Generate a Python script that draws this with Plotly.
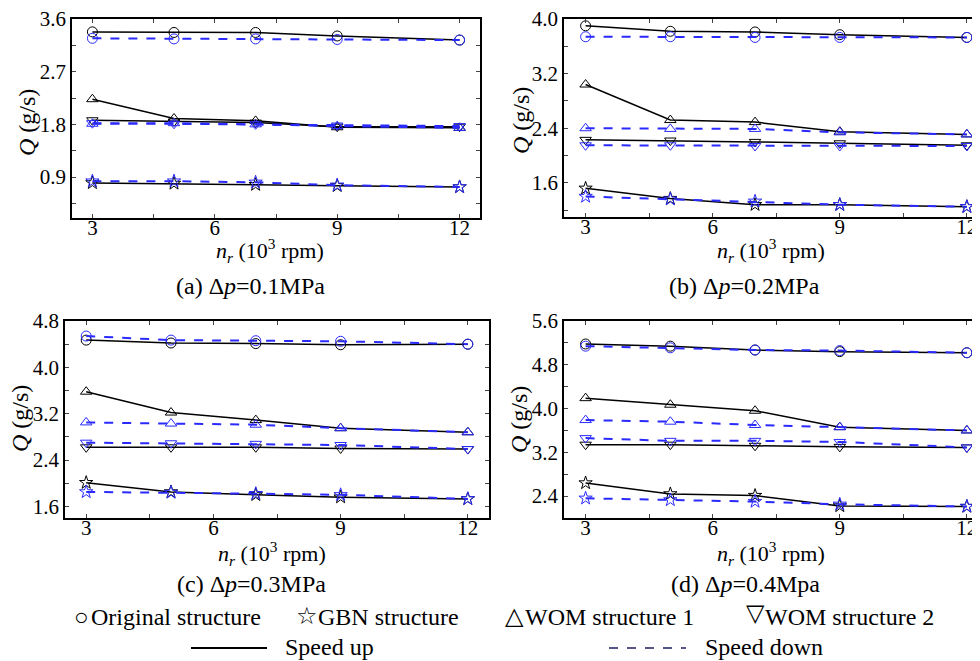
import plotly.graph_objects as go
from plotly.subplots import make_subplots

speed = [3, 5, 7, 9, 12]

# (a) dp = 0.1 MPa
a_orig_up = [3.38, 3.37, 3.37, 3.31, 3.24]
a_orig_down = [3.27, 3.26, 3.26, 3.25, 3.24]
a_gbn_up = [0.80, 0.79, 0.77, 0.75, 0.73]
a_gbn_down = [0.83, 0.83, 0.81, 0.76, 0.73]
a_wom1_up = [2.23, 1.90, 1.86, 1.75, 1.74]
a_wom1_down = [1.81, 1.82, 1.80, 1.77, 1.74]
a_wom2_up = [1.87, 1.85, 1.83, 1.76, 1.76]
a_wom2_down = [1.82, 1.81, 1.80, 1.78, 1.77]

# (b) dp = 0.2 MPa
b_orig_up = [3.90, 3.82, 3.81, 3.77, 3.73]
b_orig_down = [3.74, 3.74, 3.73, 3.73, 3.73]
b_gbn_up = [1.52, 1.37, 1.28, 1.28, 1.25]
b_gbn_down = [1.40, 1.36, 1.33, 1.28, 1.25]
b_wom1_up = [3.04, 2.52, 2.49, 2.35, 2.31]
b_wom1_down = [2.40, 2.39, 2.39, 2.34, 2.31]
b_wom2_up = [2.23, 2.22, 2.20, 2.18, 2.15]
b_wom2_down = [2.15, 2.15, 2.14, 2.14, 2.14]

# (c) dp = 0.3 MPa
c_orig_up = [4.47, 4.42, 4.41, 4.39, 4.40]
c_orig_down = [4.54, 4.47, 4.46, 4.45, 4.40]
c_gbn_up = [2.01, 1.85, 1.80, 1.76, 1.73]
c_gbn_down = [1.85, 1.84, 1.82, 1.80, 1.73]
c_wom1_up = [3.58, 3.22, 3.09, 2.95, 2.88]
c_wom1_down = [3.05, 3.03, 3.01, 2.95, 2.88]
c_wom2_up = [2.62, 2.62, 2.62, 2.60, 2.59]
c_wom2_down = [2.70, 2.69, 2.68, 2.66, 2.59]

# (d) dp = 0.4 MPa
d_orig_up = [5.18, 5.14, 5.07, 5.04, 5.02]
d_orig_down = [5.14, 5.11, 5.07, 5.06, 5.02]
d_gbn_up = [2.64, 2.44, 2.41, 2.22, 2.21]
d_gbn_down = [2.36, 2.33, 2.30, 2.25, 2.21]
d_wom1_up = [4.19, 4.07, 3.96, 3.66, 3.60]
d_wom1_down = [3.79, 3.76, 3.70, 3.66, 3.60]
d_wom2_up = [3.34, 3.34, 3.32, 3.30, 3.29]
d_wom2_down = [3.46, 3.41, 3.41, 3.39, 3.29]

panels = [
    (a_orig_up, a_orig_down, a_gbn_up, a_gbn_down, a_wom1_up, a_wom1_down, a_wom2_up, a_wom2_down),
    (b_orig_up, b_orig_down, b_gbn_up, b_gbn_down, b_wom1_up, b_wom1_down, b_wom2_up, b_wom2_down),
    (c_orig_up, c_orig_down, c_gbn_up, c_gbn_down, c_wom1_up, c_wom1_down, c_wom2_up, c_wom2_down),
    (d_orig_up, d_orig_down, d_gbn_up, d_gbn_down, d_wom1_up, d_wom1_down, d_wom2_up, d_wom2_down),
]
captions = ["(a) Δ<i>p</i>=0.1MPa", "(b) Δ<i>p</i>=0.2MPa", "(c) Δ<i>p</i>=0.3MPa", "(d) Δ<i>p</i>=0.4Mpa"]
y_ranges = [[0.2, 3.6], [1.1, 4.0], [1.4, 4.8], [2.0, 5.6]]
y_dticks = [0.9, 0.8, 0.8, 0.8]

symbols = ["circle-open", "star-open", "triangle-up-open", "triangle-down-open"]
BLUE = "#2a2aff"
OFF = 8  # page margin of the browser
W, H = 980 - OFF, 661 - OFF  # keep the figure inside the window
FONT = "Times New Roman, Liberation Serif, serif"


def px(x):
    return (x - OFF) / W


def py(y):
    return 1 - (y - OFF) / H


# screen-pixel boxes of each plot frame: left, right, top, bottom
boxes = [(72, 480, 19, 218), (564, 980, 19, 217), (65, 489, 321, 518), (564, 980, 321, 518)]
x_ranges = [[2.5, 12.5], [2.49, 12.31], [2.5, 12.5], [2.49, 12.31]]

fig = make_subplots(rows=2, cols=2)

for i, data in enumerate(panels):
    r, c = i // 2 + 1, i % 2 + 1
    ups = data[0::2]
    downs = data[1::2]
    for sym, vals in zip(symbols, ups):
        fig.add_trace(go.Scatter(x=speed, y=vals, mode="lines+markers",
                                 line=dict(color="black", width=1.5),
                                 marker=dict(symbol=sym, size=10, color="black", line=dict(width=1)),
                                 showlegend=False), row=r, col=c)
    for sym, vals in zip(symbols, downs):
        fig.add_trace(go.Scatter(x=speed, y=vals, mode="lines+markers",
                                 line=dict(color=BLUE, width=2, dash="dash"),
                                 marker=dict(symbol=sym, size=10, color=BLUE, line=dict(width=1)),
                                 showlegend=False), row=r, col=c)

    left, right, top, bottom = boxes[i]
    fig.update_xaxes(domain=[px(left), min(px(right), 1.0)], range=x_ranges[i], dtick=3, tick0=0,
                     automargin=False, ticks="inside", ticklen=4, showline=True, linecolor="black",
                     linewidth=1.5, mirror="allticks", showgrid=False, zeroline=False,
                     ticklabelstandoff=-10, ticklabeloverflow="allow",
                     minor=dict(ticks="inside", dtick=1.5, tick0=0, ticklen=4),
                     tickfont=dict(family=FONT, size=21, color="black"), row=r, col=c)
    fig.update_yaxes(domain=[py(bottom), py(top)], range=y_ranges[i], dtick=y_dticks[i], tick0=0,
                     automargin=False, tickformat=".1f", ticks="inside", ticklen=4, showline=True,
                     linecolor="black", linewidth=1.5, mirror="allticks", showgrid=False, zeroline=False,
                     ticklabeloverflow="allow",
                     minor=dict(ticks="inside", dtick=y_dticks[i] / 2, tick0=0, ticklen=4),
                     tickfont=dict(family=FONT, size=21, color="black"), row=r, col=c)

annotations = []


def label(x, y, text, size, anchor="center", angle=0):
    annotations.append(dict(x=px(x), y=py(y), xref="paper", yref="paper", xanchor=anchor,
                            yanchor="middle", text=text, textangle=angle, showarrow=False,
                            font=dict(family=FONT, size=size, color="black")))


ytitle_pos = [(27, 123), (521, 121), (20, 419), (519, 419)]
xtitle_pos = [(270, 250), (771, 250), (272, 553), (771, 553)]
cap_pos = [(250, 286), (744, 286), (251, 584), (745, 584)]
for i in range(4):
    label(*ytitle_pos[i], "<i>Q</i> (g/s)", 24, angle=-90)
    label(*xtitle_pos[i], "<i>n</i><sub><i>r</i></sub> (10<sup>3</sup> rpm)", 22)
    label(*cap_pos[i], captions[i], 24)

# legend built from text and short sample lines
legend_marks = [(81, 617, "○"), (307, 616, "☆"), (514, 616, "△"), (755, 613, "▽")]
legend_row1 = [(89, "Original structure"), (316, "GBN structure"), (523, "WOM structure 1"),
               (763, "WOM structure 2")]
for xp, yp, sym in legend_marks:
    label(xp, yp, sym, 24)
for xp, txt in legend_row1:
    label(xp, 617, txt, 24, anchor="left")
label(283, 647, "Speed up", 24, anchor="left")
label(703, 647, "Speed down", 24, anchor="left")

shapes = [
    dict(type="line", xref="paper", yref="paper", x0=px(191), x1=px(267), y0=py(648), y1=py(648),
         line=dict(color="black", width=2)),
    dict(type="line", xref="paper", yref="paper", x0=px(609), x1=px(686), y0=py(648), y1=py(648),
         line=dict(color="#555588", width=2, dash="dash")),
]

fig.update_layout(width=W, height=H, margin=dict(l=0, r=0, t=0, b=0),
                  plot_bgcolor="white", paper_bgcolor="white",
                  annotations=annotations, shapes=shapes, showlegend=False)

fig.write_html("out.html")
